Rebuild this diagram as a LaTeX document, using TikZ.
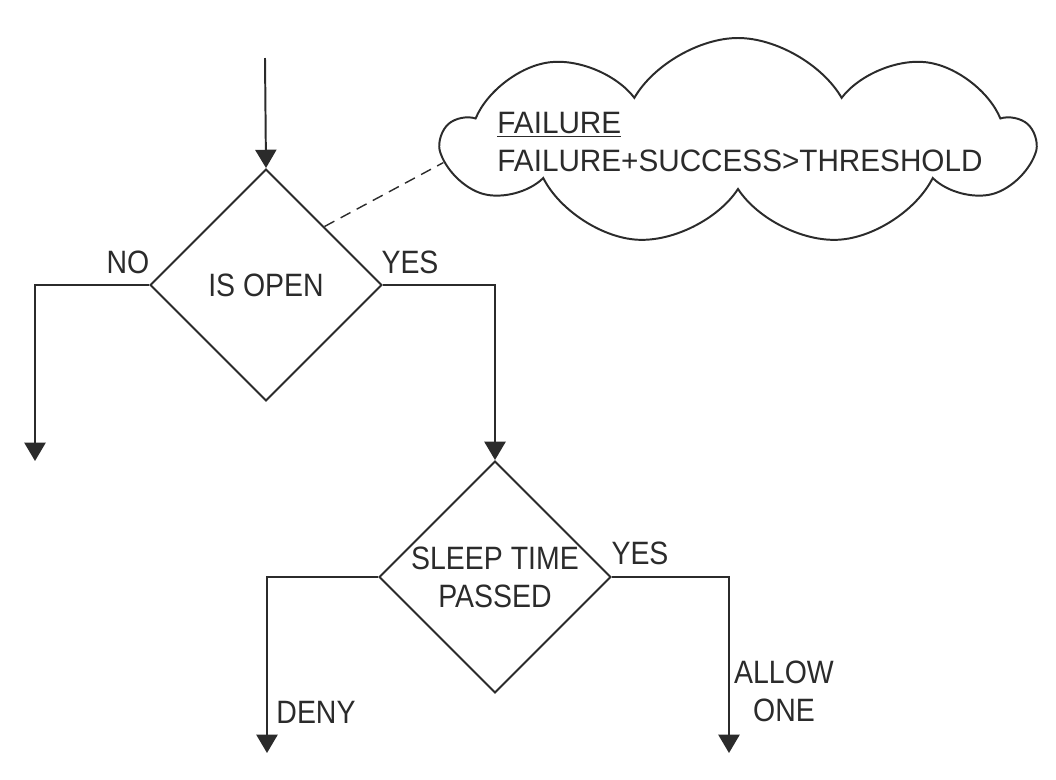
\documentclass[tikz,border=0pt]{standalone}
\usepackage{fontspec}
\setmainfont[FakeStretch=0.88]{Liberation Sans}
\newfontfamily\cloudfont[FakeStretch=0.96]{Liberation Sans}
\usetikzlibrary{shapes.geometric,shapes.symbols,arrows.meta}
\definecolor{ink}{HTML}{2B2B2B}
\begin{document}
\begin{tikzpicture}[
  color=ink, line width=1.4pt,
  every node/.style={font=\fontsize{23}{27}\selectfont},
  decision/.style={diamond,draw,minimum width=5.8cm,minimum height=5.8cm,inner sep=0pt,align=center},
  flow/.style={-{Triangle[length=13pt,width=15pt]}},
  note/.style={cloud,draw,cloud puffs=9,cloud puff arc=120,cloud ignores aspect,minimum width=14.7cm,minimum height=5.2cm,inner sep=0pt},
  notetext/.style={align=left,inner sep=0pt,font=\cloudfont\fontsize{22}{27}\selectfont}
]
\useasboundingbox (0,0) rectangle (26.4,-19.475);
\coordinate (start) at (6.625,-1.45);
\node[decision] (open) at (6.65,-7.125) {IS OPEN};
\node[decision] (sleep) at (12.375,-14.425) {SLEEP TIME\\PASSED};
\node[note] (failnote) at (18.45,-3.55) {};
\node[notetext] (failtext) at (18.5,-3.55) {\underline{FAILURE}\\FAILURE+SUCCESS>THRESHOLD};
\coordinate (noend) at (0.875,-11.525);
\coordinate (denyend) at (6.675,-18.825);
\coordinate (allowend) at (18.225,-18.825);
\draw[flow] (start) -- (open.north);
\draw[flow] (open.west) -| (noend);
\draw[flow] (open.east) -| (sleep.north);
\draw[flow] (sleep.west) -| (denyend);
\draw[flow] (sleep.east) -| (allowend);
\draw[line width=1pt,dash pattern=on 8pt off 5pt] (open.north east) -- (failnote.184);
\node (no) at (3.2,-6.55) {NO};
\node (yesopen) at (10.25,-6.55) {YES};
\node (yessleep) at (16.0,-13.825) {YES};
\node (deny) at (7.9,-17.8) {DENY};
\node[align=center] (allow) at (19.6,-17.275) {ALLOW\\ONE};
\end{tikzpicture}
\end{document}
